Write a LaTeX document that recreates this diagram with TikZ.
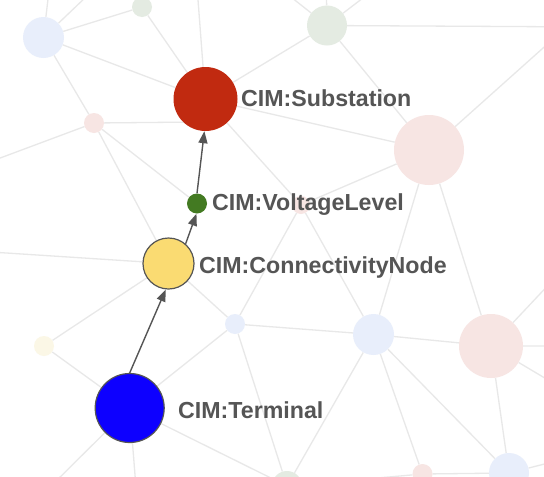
\documentclass[tikz,border=0pt]{standalone}
\usepackage{fontspec}
\setmainfont{Liberation Sans}
\usetikzlibrary{arrows.meta,backgrounds}
\definecolor{edgec}{HTML}{E8E8E8}
\definecolor{arrowc}{HTML}{555555}
\definecolor{textc}{HTML}{555555}
\definecolor{pinkc}{HTML}{F7E5E3}
\definecolor{bluec}{HTML}{E8EEFB}
\definecolor{greenc}{HTML}{E4EBE2}
\definecolor{yellowc}{HTML}{FBF7E6}
\definecolor{subc}{HTML}{C12A10}
\definecolor{vlc}{HTML}{437A22}
\definecolor{cnc}{HTML}{FADB72}
\definecolor{tc}{HTML}{0D00FF}
\begin{document}
\begin{tikzpicture}[x=1pt,y=-1pt,
  bgpink/.style={circle,inner sep=0pt,fill=pinkc,minimum size=#1},
  bgblue/.style={circle,inner sep=0pt,fill=bluec,minimum size=#1},
  bggreen/.style={circle,inner sep=0pt,fill=greenc,minimum size=#1},
  bgyellow/.style={circle,inner sep=0pt,fill=yellowc,minimum size=#1},
  mainnode/.style={circle,inner sep=0pt,minimum size=#1},
  outlined/.style={draw=arrowc,line width=1.2pt},
  bgedge/.style={draw=edgec,line width=1.3pt},
  hiedge/.style={draw=arrowc,line width=1.4pt,-{Triangle[length=12pt,width=9pt]}},
  lbl/.style={inner sep=0pt,text=textc,font=\fontsize{23.2}{27}\selectfont\bfseries}]
\useasboundingbox (0,0) rectangle (544,477);
\clip (0,0) rectangle (544,477);

% background nodes
\node[bgblue=41] (A) at (43.5,37.5) {};
\node[bggreen=20] (B) at (142,7) {};
\node[bggreen=40] (C) at (327,25.5) {};
\node[bgpink=20] (D) at (94,123) {};
\node[bgpink=70] (E) at (429,150) {};
\node[bgpink=18] (F) at (301,205) {};
\node[bgyellow=20] (G) at (44,346) {};
\node[bgblue=20] (H) at (235,324) {};
\node[bgblue=41] (I) at (373.5,334.5) {};
\node[bgpink=64] (J) at (491,346) {};
\node[bgpink=20] (K) at (422.5,474) {};
\node[bgblue=40] (L) at (509,473) {};
\node[bggreen=30] (M) at (287,486) {};

% highlighted nodes
\node[mainnode=64,fill=subc] (Sub) at (205.5,99) {};
\node[mainnode=20,fill=vlc] (VL) at (197,203.5) {};
\node[mainnode=51,fill=cnc,outlined] (CN) at (168.5,263.5) {};
\node[mainnode=69,fill=tc,outlined] (T) at (129.7,408) {};

% off-picture ends of background edges
\coordinate (o1) at (52,-35);
\coordinate (o2) at (110,-26);
\coordinate (o3) at (-40,173);
\coordinate (o4) at (195,-40);
\coordinate (o5) at (263,-25);
\coordinate (o6) at (326,-30);
\coordinate (o7) at (393,-25);
\coordinate (o8) at (600,27);
\coordinate (o9) at (580,15);
\coordinate (o10) at (-40,250);
\coordinate (o11) at (570,262);
\coordinate (o12) at (600,346);
\coordinate (o13) at (580,399);
\coordinate (o14) at (40,497);
\coordinate (o15) at (137,500);
\coordinate (o16) at (580,455);
\coordinate (dsub) at (200,122);

\begin{pgfonlayer}{background}
\fill[white] (0,0) rectangle (544,477);
\path[bgedge]
  (A) -- (o1)  (A) -- (o2)  (A) -- (B)  (A) -- (Sub)  (A) -- (D)
  (B) -- (Sub)
  (D) -- (o3)  (D) -- (dsub)  (D) -- (VL)  (D) -- (CN)
  (Sub) -- (o4)  (Sub) -- (C)  (Sub) -- (F)  (Sub) -- (E)
  (C) -- (o5)  (C) -- (o6)  (C) -- (o7)  (C) -- (o8)  (C) -- (E)
  (E) -- (o9)  (E) -- (F)  (E) -- (I)  (E) -- (J)
  (F) -- (H)  (F) -- (I)
  (CN) -- (o10)  (CN) -- (G)  (CN) -- (H)
  (G) -- (T)
  (T) -- (H)  (T) -- (o14)  (T) -- (o15)  (T) -- (M)
  (H) -- (I)  (H) -- (M)
  (I) -- (M)  (I) -- (K)  (I) -- (L)  (I) -- (J)
  (J) -- (o11)  (J) -- (o12)  (J) -- (o13)  (J) -- (L)
  (K) -- (L)  (M) -- (K)  (L) -- (o16);
\end{pgfonlayer}

% highlighted path
\draw[hiedge] (T.north) -- (CN.-96);
\draw[hiedge] (CN.49) -- (VL.-93);
\draw[hiedge] (VL.north) -- (Sub.-92);

% labels
\node[lbl,anchor=base west] (SubL) at (241,106) {CIM:Substation};
\node[lbl,anchor=base west] (VLL) at (212,210) {CIM:VoltageLevel};
\node[lbl,anchor=base west] (CNL) at (199,273) {CIM:ConnectivityNode};
\node[lbl,anchor=base west] (TL) at (178,418) {CIM:Terminal};
\end{tikzpicture}
\end{document}
